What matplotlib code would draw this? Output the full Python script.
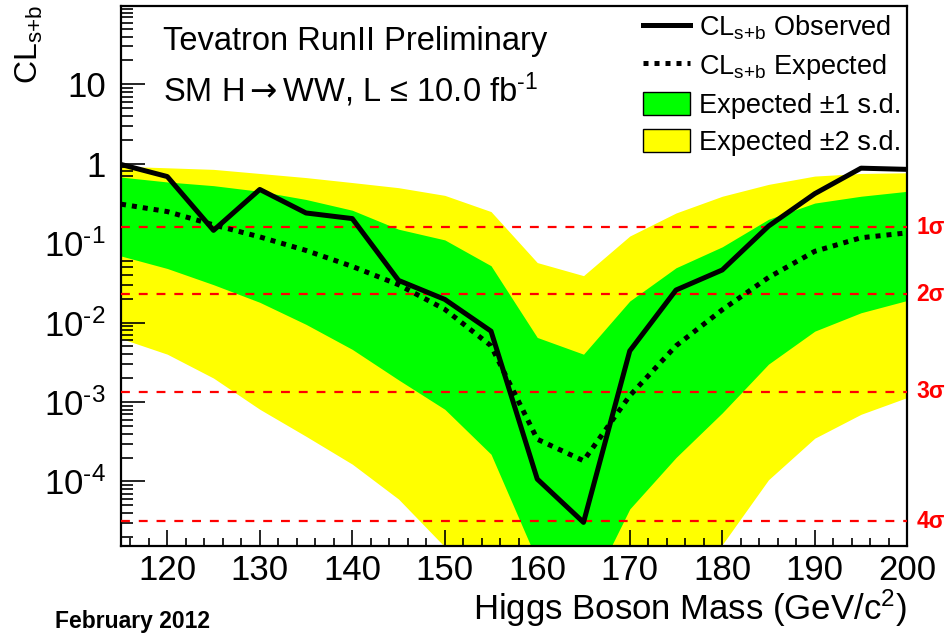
import matplotlib
matplotlib.use("Agg")
import matplotlib.pyplot as plt
from matplotlib.lines import Line2D
from matplotlib.patches import Patch
from matplotlib.ticker import FixedLocator, FixedFormatter, MultipleLocator
import matplotlib.transforms as mtransforms

plt.rcParams['font.family'] = ['Liberation Sans', 'DejaVu Sans']
plt.rcParams['mathtext.fontset'] = 'custom'
plt.rcParams['mathtext.rm'] = 'Liberation Sans'
plt.rcParams['mathtext.it'] = 'Liberation Sans:italic'
plt.rcParams['mathtext.bf'] = 'Liberation Sans:bold'
plt.rcParams['mathtext.sf'] = 'DejaVu Sans'
plt.rcParams['mathtext.default'] = 'regular'

# Higgs mass points (GeV/c^2)
mass = [115, 120, 125, 130, 135, 140, 145, 150, 155, 160,
        165, 170, 175, 180, 185, 190, 195, 200]

# CLs+b observed / expected
cl_obs = [0.98, 0.69, 0.145, 0.475, 0.24, 0.204, 0.034, 0.0196, 0.0078, 1.07e-4,
          3.05e-5, 0.0044, 0.0257, 0.046, 0.164, 0.42, 0.88, 0.85]
cl_exp = [0.31, 0.25, 0.17, 0.12, 0.081, 0.051, 0.030, 0.0147, 0.0051, 3.4e-4,
          1.82e-4, 0.0012, 0.0051, 0.0145, 0.037, 0.079, 0.117, 0.135]

# +-1 s.d. band
band1_hi = [0.68, 0.59, 0.53, 0.45, 0.355, 0.26, 0.15, 0.11, 0.052, 0.0065,
            0.004, 0.0187, 0.049, 0.09, 0.2, 0.32, 0.39, 0.45]
band1_lo = [0.069, 0.048, 0.030, 0.018, 0.0095, 0.0046, 0.0019, 8.1e-4, 2.2e-4, 1e-5,
            3e-6, 4.5e-5, 2.0e-4, 7.3e-4, 3.0e-3, 7.8e-3, 0.0133, 0.019]

# +-2 s.d. band
band2_hi = [0.93, 0.89, 0.85, 0.755, 0.67, 0.58, 0.50, 0.40, 0.25, 0.057,
            0.039, 0.123, 0.24, 0.39, 0.55, 0.70, 0.755, 0.77]
band2_lo = [0.0063, 0.004, 0.002, 8.1e-4, 3.7e-4, 1.65e-4, 6e-5, 1.5e-5, 1e-7, 1e-7,
            1e-7, 1e-7, 1e-7, 1.6e-5, 1.05e-4, 3.5e-4, 7e-4, 1.14e-3]

# one-sided significance levels
sigma_vals = [0.1587, 0.02275, 0.00135, 3.17e-5]
sigma_labels = ['1σ', '2σ', '3σ', '4σ']

ytick_vals = [1e-4, 1e-3, 1e-2, 1e-1, 1, 10]
ytick_labels = ['$10^{\\text{-}4}$', '$10^{\\text{-}3}$', '$10^{\\text{-}2}$',
                '$10^{\\text{-}1}$', '1', '10']

W, H = 953, 637
fig = plt.figure(figsize=(W / 100, H / 100), dpi=100)
ax = fig.add_axes([0.127, 0.1433, 0.825, 0.8473])

ax.fill_between(mass, band2_lo, band2_hi, color='#ffff00', lw=0, zorder=1)
ax.fill_between(mass, band1_lo, band1_hi, color='#00ff00', lw=0, zorder=2)

for v in sigma_vals:
    ax.axhline(v, color='#ff0000', lw=1.6, ls=(0, (4, 4)), zorder=3)

ax.plot(mass, cl_exp, color='black', lw=3.6, ls=(0, (1, 1.2)),
        dash_capstyle='butt', zorder=4)
ax.plot(mass, cl_obs, color='black', lw=3.6, zorder=5)

ax.set_yscale('log')
ax.set_xlim(115, 200)
ax.set_ylim(1.55e-5, 97)

ax.yaxis.set_major_locator(FixedLocator(ytick_vals))
ax.yaxis.set_major_formatter(FixedFormatter(ytick_labels))
ax.xaxis.set_major_locator(MultipleLocator(10))
ax.xaxis.set_minor_locator(MultipleLocator(2))

ax.tick_params(axis='y', which='major', direction='in', length=17, width=1.2,
               labelsize=25, pad=11, right=False)
ax.tick_params(axis='y', which='minor', direction='in', length=8.6, width=1.2,
               right=False)
ax.tick_params(axis='x', which='major', direction='in', length=11.5, width=1.2,
               labelsize=25, pad=6, top=False)
ax.tick_params(axis='x', which='minor', direction='in', length=5.8, width=1.2,
               top=False)
for s in ax.spines.values():
    s.set_linewidth(1.6)

# sigma labels at the right of the frame
trans = mtransforms.blended_transform_factory(ax.transAxes, ax.transData)
for v, lab in zip(sigma_vals, sigma_labels):
    ax.text(1.012, v, lab, transform=trans, color='#ff0000', fontsize=16.5,
            fontweight='bold', va='center', ha='left')

handles = [
    Line2D([], [], color='black', lw=3.6),
    Line2D([], [], color='black', lw=3.6, ls=(0, (1, 1.2)), dash_capstyle='butt'),
    Patch(facecolor='#00ff00', edgecolor='black', lw=1),
    Patch(facecolor='#ffff00', edgecolor='black', lw=1),
]
labels = ['CL$_{s{+}b}$ Observed', 'CL$_{s{+}b}$ Expected',
          'Expected ±1 s.d.', 'Expected ±2 s.d.']
ax.legend(handles, labels, loc='upper left', frameon=False, fontsize=19.5,
          handlelength=1.74, handleheight=0.93, handletextpad=0.33,
          labelspacing=0.38, borderpad=0, borderaxespad=0,
          bbox_to_anchor=(643 / W, 1 - 13 / H), bbox_transform=fig.transFigure)

fig.text(163 / W, 1 - 50 / H, 'Tevatron RunII Preliminary',
         fontsize=23.5, va='baseline', ha='left')
fig.text(163 / W, 1 - 101.7 / H, 'SM H$\\mathsf{\\rightarrow}$WW, L ≤ 10.0 fb$^{\\text{-}1}$',
         fontsize=23.5, va='baseline', ha='left')
fig.text(907 / W, 1 - 620 / H, 'Higgs Boson Mass (GeV/c$^{2}$)',
         fontsize=25, va='baseline', ha='right')
fig.text(29.5 / W, 1 - 5 / H, 'CL$_{s{+}b}$', fontsize=23,
         rotation=90, va='top', ha='center')
fig.text(55 / W, 1 - 628 / H, 'February 2012', fontsize=16.5,
         fontweight='bold', va='baseline', ha='left')

fig.savefig('out.png', dpi=100)
